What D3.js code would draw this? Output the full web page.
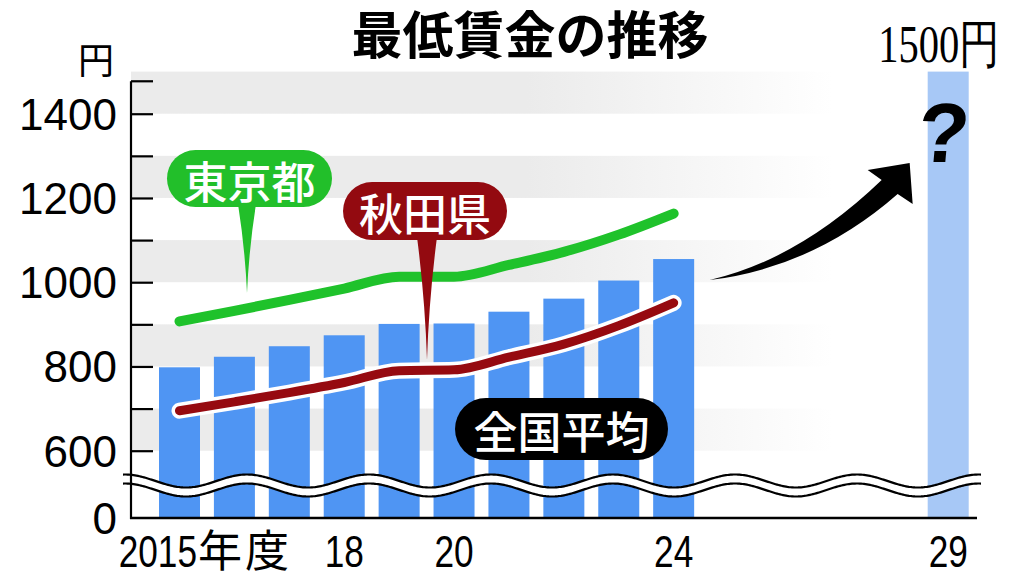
<!DOCTYPE html>
<html><head><meta charset="utf-8">
<script src="https://cdn.jsdelivr.net/npm/d3@7"></script>
<style>body{margin:0;background:#fff}svg{display:block}</style>
</head><body><svg id="c" width="1024" height="581"></svg>
<script>
// ---- data ----
const years    = [2015,2016,2017,2018,2019,2020,2021,2022,2023,2024];
const national = [798, 823, 848, 874, 901, 902, 930, 961, 1004,1055];
const tokyo    = [907, 932, 958, 985, 1013,1013,1041,1072,1113,1163];
const akita    = [695, 716, 738, 762, 790, 792, 822, 853, 897, 951];
const targetYear  = 2029;
const targetValue = 1500;
const yTickValues = [0,600,700,800,900,1000,1100,1200,1300,1400];
const yTickLabels = ["0","600","","800","","1000","","1200","","1400"];
const xTickYears  = [2015,2018,2020,2024,2029];
const xTickLabels = ["2015","18","20","24","29"];
const xTickSuffix = ["年度","","","",""];
const bandStarts  = [600,800,1000,1200,1400];

// ---- scales ----
const svg = d3.select("#c");
const x = d3.scaleLinear().domain([2015, 2029]).range([179.5, 948.2]);
const y = d3.scaleLinear().domain([0, 600, 1500]).range([518, 450.7, 71.6]);
const axisX = 131, axisRight = 977, barW = 41;
const JP = "'Noto Sans CJK JP','Noto Sans',sans-serif";
const JPT = "'Liberation Sans','Noto Sans CJK JP',sans-serif";
const NUM = "'Liberation Sans',Arial,sans-serif";

// gradient for background bands
const defs = svg.append("defs");
const g = defs.append("linearGradient").attr("id","band").attr("gradientUnits","userSpaceOnUse")
  .attr("x1",527).attr("x2",832).attr("y1",0).attr("y2",0);
g.append("stop").attr("offset",0).attr("stop-color","#ebebeb");
g.append("stop").attr("offset",1).attr("stop-color","#ffffff");

svg.append("g").selectAll("rect").data(bandStarts).join("rect")
  .attr("x", axisX).attr("width", 832 - axisX)
  .attr("y", d => y(d + 100)).attr("height", d => y(d) - y(d + 100))
  .attr("fill", "url(#band)");

// bars
svg.append("g").selectAll("rect").data(years).join("rect")
  .attr("x", d => x(d) - barW/2).attr("width", barW)
  .attr("y", (d,i) => y(national[i])).attr("height", (d,i) => y(0) - y(national[i]))
  .attr("fill", "#4f95f3");
svg.append("rect")
  .attr("x", x(targetYear) - barW/2).attr("width", barW)
  .attr("y", y(targetValue)).attr("height", y(0) - y(targetValue))
  .attr("fill", "#a7c8f6");

// lines
const line = d3.line().x((d,i) => x(years[i])).y(d => y(d)).curve(d3.curveMonotoneX);
svg.append("path").attr("d", line(tokyo)).attr("fill","none")
  .attr("stroke","#1fc22b").attr("stroke-width",10).attr("stroke-linecap","round").attr("stroke-linejoin","round");
svg.append("path").attr("d", line(akita)).attr("fill","none")
  .attr("stroke","#fff").attr("stroke-width",16).attr("stroke-linecap","round").attr("stroke-linejoin","round");
svg.append("path").attr("d", line(akita)).attr("fill","none")
  .attr("stroke","#960a10").attr("stroke-width",9).attr("stroke-linecap","round").attr("stroke-linejoin","round");

// break wave
const waveXs = d3.range(123, 982.5, 1.5);
const waveTop = xx => 481 - 6.5 * Math.cos(2*Math.PI*(xx - 247)/122);
const gap = 9;
svg.append("path").attr("d", d3.area().x(d=>d).y0(d=>waveTop(d)).y1(d=>waveTop(d)+gap)(waveXs)).attr("fill","#fff");
svg.append("path").attr("d", d3.line().x(d=>d).y(d=>waveTop(d))(waveXs)).attr("fill","none").attr("stroke","#000").attr("stroke-width",2.2);
svg.append("path").attr("d", d3.line().x(d=>d).y(d=>waveTop(d)+gap)(waveXs)).attr("fill","none").attr("stroke","#000").attr("stroke-width",2.2);

// axes
svg.append("line").attr("x1",axisX).attr("x2",axisX).attr("y1",y(1477)).attr("y2",y(0)+1)
  .attr("stroke","#000").attr("stroke-width",2.2);
svg.append("line").attr("x1",axisX).attr("x2",axisX+22).attr("y1",y(1477)).attr("y2",y(1477))
  .attr("stroke","#000").attr("stroke-width",2.2);
svg.append("line").attr("x1",axisX-1).attr("x2",axisRight).attr("y1",y(0)).attr("y2",y(0))
  .attr("stroke","#000").attr("stroke-width",2.4);
const yAxis = d3.axisLeft(y).tickValues(yTickValues).tickSizeInner(-22).tickSizeOuter(0).tickPadding(14)
  .tickFormat((d,i) => yTickLabels[i]);
const ya = svg.append("g").attr("transform",`translate(${axisX},0)`).call(yAxis);
ya.select(".domain").remove();
ya.selectAll(".tick line").attr("stroke","#000").attr("stroke-width",2.2);
ya.selectAll(".tick").filter(d => d === 0).select("line").remove();
ya.selectAll(".tick text").attr("font-family",NUM).attr("font-size",44).attr("fill","#000").attr("dy","0.35em");

// y unit
svg.append("text").attr("x",114).attr("y",74).attr("text-anchor","end")
  .attr("font-family",JPT).attr("font-size",36).text("円");

// x tick labels
xTickYears.forEach((yr,i) => {
  const hasSuffix = xTickSuffix[i] !== "";
  const px = hasSuffix ? x(yr) + 17.5 : x(yr);
  svg.append("text").attr("transform",`translate(${px},567) scale(0.8,1)`)
    .attr("text-anchor", hasSuffix ? "end" : "middle")
    .attr("font-family",NUM).attr("font-size",44).text(xTickLabels[i]);
  if (hasSuffix) {
    svg.append("text").attr("x",px+1).attr("y",567).attr("font-family",JP).attr("font-size",44)
      .attr("letter-spacing",3).text(xTickSuffix[i]);
  }
});

// title
svg.append("text").attr("x",530).attr("y",54).attr("text-anchor","middle")
  .attr("font-family",JPT).attr("font-weight",700).attr("font-size",51).text("最低賃金の推移");

// target label
svg.append("text").attr("transform",`translate(${x(targetYear)-9},62) scale(0.78,1)`).attr("text-anchor","middle")
  .attr("font-family","'Liberation Serif','Times New Roman',serif").attr("font-size",52).text(targetValue + "円");

// question mark
svg.append("text").attr("transform",`translate(${x(targetYear)-7},162) skewX(-5)`).attr("text-anchor","middle")
  .attr("font-family",NUM).attr("font-weight",700).attr("font-size",84).text("?");

// arrow
const tx = x(2024) + 36, ty = y(1005);
svg.append("path").attr("fill","#000")
  .attr("d",`M${tx},${ty} Q${tx+90},${ty-21} ${tx+172},${ty-100} L${tx+158},${ty-110} L${tx+200},${ty-117} L${tx+203},${ty-76} L${tx+188},${ty-86} Q${tx+105},${ty-13} ${tx},${ty} Z`);

// callout bubbles
function bubble(cx, cy, w, h, color, label, tip) {
  const gg = svg.append("g");
  if (tip) {
    const bx = tip[0], by = cy + h/2 - 3, hx = tip[2] || 9;
    gg.append("path").attr("fill", color)
      .attr("d", `M${bx-hx},${by} Q${bx-2},${(by+tip[1])/2} ${tip[0]},${tip[1]} Q${bx+2},${(by+tip[1])/2} ${bx+hx},${by} Z`);
  }
  gg.append("rect").attr("x",cx-w/2).attr("y",cy-h/2).attr("width",w).attr("height",h).attr("rx",h/2).attr("fill",color);
  gg.append("text").attr("x",cx).attr("y",cy+1).attr("text-anchor","middle").attr("dominant-baseline","central")
    .attr("font-family",JP).attr("font-weight",500).attr("font-size",44).attr("fill","#fff").text(label);
}
bubble(249.5, 178.5, 165, 57, "#22bf2a", "東京都", [247, 293, 9]);
bubble(425, 211, 164, 58, "#930a10", "秋田県", [427, 360, 10]);
bubble(561.5, 429, 213, 62, "#000", "全国平均", null);
</script></body></html>
